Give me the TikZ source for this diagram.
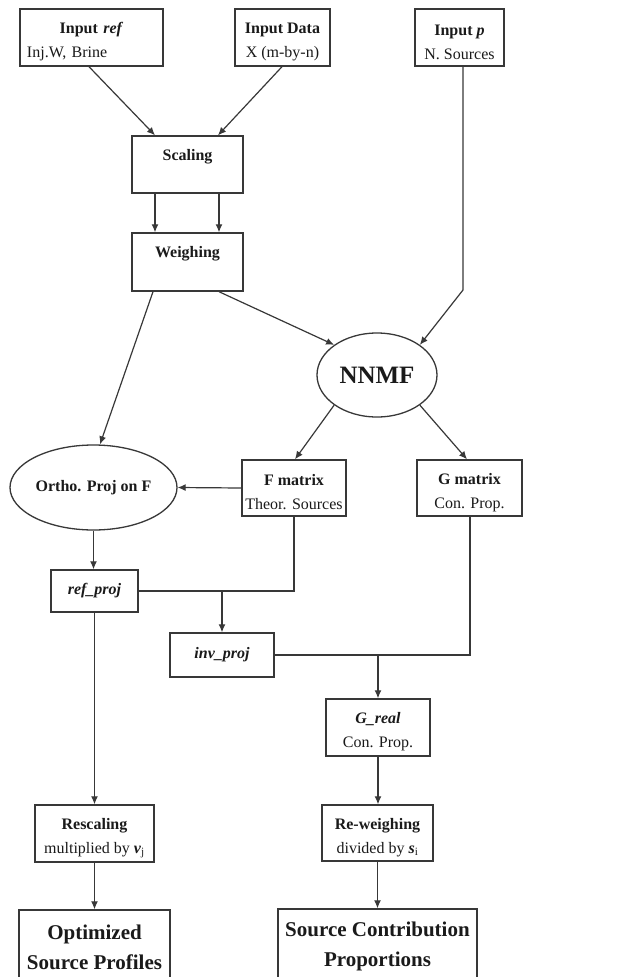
\documentclass[tikz,border=0pt]{standalone}
\usepackage{fontspec}
\setmainfont{Liberation Serif}
\usetikzlibrary{shapes.geometric,arrows.meta,calc}
\definecolor{linec}{HTML}{383838}
\definecolor{textc}{HTML}{1A1A1A}
\newcommand{\nsz}{\fontsize{16}{24}\selectfont}
\newcommand{\bsz}{\fontsize{21}{30}\selectfont}
\newcommand{\tstrut}{\rule{0pt}{20pt}}
\tikzset{
  box/.style={draw=linec, line width=1.4pt, fill=white, inner sep=0pt, align=center, font=\nsz, text=textc},
  oval/.style={ellipse, draw=linec, line width=1.3pt, fill=white, inner sep=0pt, align=center, text=textc},
  arr/.style={draw=linec, line width=1.2pt, -{Latex[length=8pt,width=7pt]}},
  ln/.style={draw=linec, line width=1.2pt}
}
\begin{document}
\begin{tikzpicture}[x=1pt,y=-1pt]
\clip (0,0) rectangle (625,977);
\fill[white] (0,0) rectangle (625,977);
% top inputs
\node[box, minimum width=143pt, minimum height=57pt, text width=129pt, align=left] (inref) at (91.5,37.5)
  {\tstrut\makebox[129pt]{\textbf{Input \textit{ref}}}\\Inj.W, Brine};
\node[box, minimum width=95pt, minimum height=57pt] (indata) at (282.5,37.5)
  {\tstrut\textbf{Input Data}\\X (m-by-n)};
\node[box, minimum width=89pt, minimum height=57pt] (inp) at (459.5,37.5)
  {\tstrut\textbf{Input \textit{p}}\\N. Sources};
% scaling / weighing
\node[box, minimum width=111pt, minimum height=57pt] (scal) at (187.5,164.5)
  {\rule{0pt}{15pt}\textbf{Scaling}\\\mbox{}};
\node[box, minimum width=111pt, minimum height=58pt] (weigh) at (187.5,262)
  {\rule{0pt}{15pt}\textbf{Weighing}\\\mbox{}};
% NNMF
\node[oval, minimum width=120pt, minimum height=84pt, font=\fontsize{25}{28}\selectfont\bfseries] (nnmf) at (377,375) {NNMF};
% second level
\node[oval, minimum width=167pt, minimum height=85pt, font=\nsz\bfseries] (ortho) at (93.5,487.5) {Ortho. Proj on F};
\node[box, minimum width=104pt, minimum height=56pt] (fmat) at (294,488)
  {\tstrut\textbf{F matrix}\\Theor. Sources};
\node[box, minimum width=105pt, minimum height=56pt] (gmat) at (469.5,488)
  {\tstrut\textbf{G matrix}\\Con. Prop.};
% projections
\node[box, minimum width=87pt, minimum height=42pt] (refproj) at (94.5,591)
  {\textbf{\textit{ref\_proj}}};
\node[box, minimum width=104pt, minimum height=44pt] (invproj) at (222,655)
  {\textbf{\textit{inv\_proj}}};
\node[box, minimum width=104pt, minimum height=57pt] (greal) at (378,727.5)
  {\tstrut\textbf{\textit{G\_real}}\\Con. Prop.};
% rescaling
\node[box, minimum width=119pt, minimum height=57pt] (resc) at (94.5,833.5)
  {\tstrut\textbf{Rescaling}\\multiplied by \textbf{\textit{v}}\textsubscript{j}};
\node[box, minimum width=111pt, minimum height=56pt] (rewe) at (377.5,833)
  {\tstrut\textbf{Re-weighing}\\divided by \textbf{\textit{s}}\textsubscript{i}};
% outputs
\node[box, minimum width=151pt, minimum height=74pt, font=\bsz\bfseries] (opt) at (94.5,947)
  {Optimized\\Source Profiles};
\node[box, minimum width=199pt, minimum height=75pt, font=\bsz\bfseries] (scp) at (377.5,946.5)
  {Source Contribution\\Proportions};
% connectors
\draw[arr] ([xshift=-2.5pt]inref.south) -- ([xshift=-32.5pt]scal.north);
\draw[arr] ([xshift=-0.5pt]indata.south) -- ([xshift=30.5pt]scal.north);
\draw[arr] ([xshift=-32.5pt]scal.south) -- ([xshift=-32.5pt]weigh.north);
\draw[arr] ([xshift=31.5pt]scal.south) -- ([xshift=31.5pt]weigh.north);
\draw[arr] ([xshift=-34.5pt]weigh.south) -- ([xshift=6.5pt]ortho.north);
\draw[arr] ([xshift=31.5pt]weigh.south) -- (nnmf.north west);
\coordinate (pbend) at (463,290);
\draw[arr] ([xshift=3.5pt]inp.south) -- (pbend) -- (nnmf.north east);
\draw[arr] (nnmf.south west) -- ([xshift=1pt]fmat.north);
\draw[arr] (nnmf.south east) -- ([xshift=-2.5pt]gmat.north);
\draw[arr] (fmat.west) -- (ortho.east);
\draw[arr] (ortho.south) -- (ortho.south |- refproj.north);
\draw[ln] (fmat.south) |- (refproj.east);
\draw[arr] (invproj.north |- refproj.east) -- (invproj.north);
\draw[ln] ([xshift=0.5pt]gmat.south) |- (invproj.east);
\draw[arr] (greal.north |- invproj.east) -- (greal.north);
\draw[arr] (refproj.south) -- (resc.north);
\draw[arr] (greal.south) -- (greal.south |- rewe.north);
\draw[arr] (resc.south) -- (opt.north);
\draw[arr] (rewe.south) -- (scp.north);
\end{tikzpicture}
\end{document}
